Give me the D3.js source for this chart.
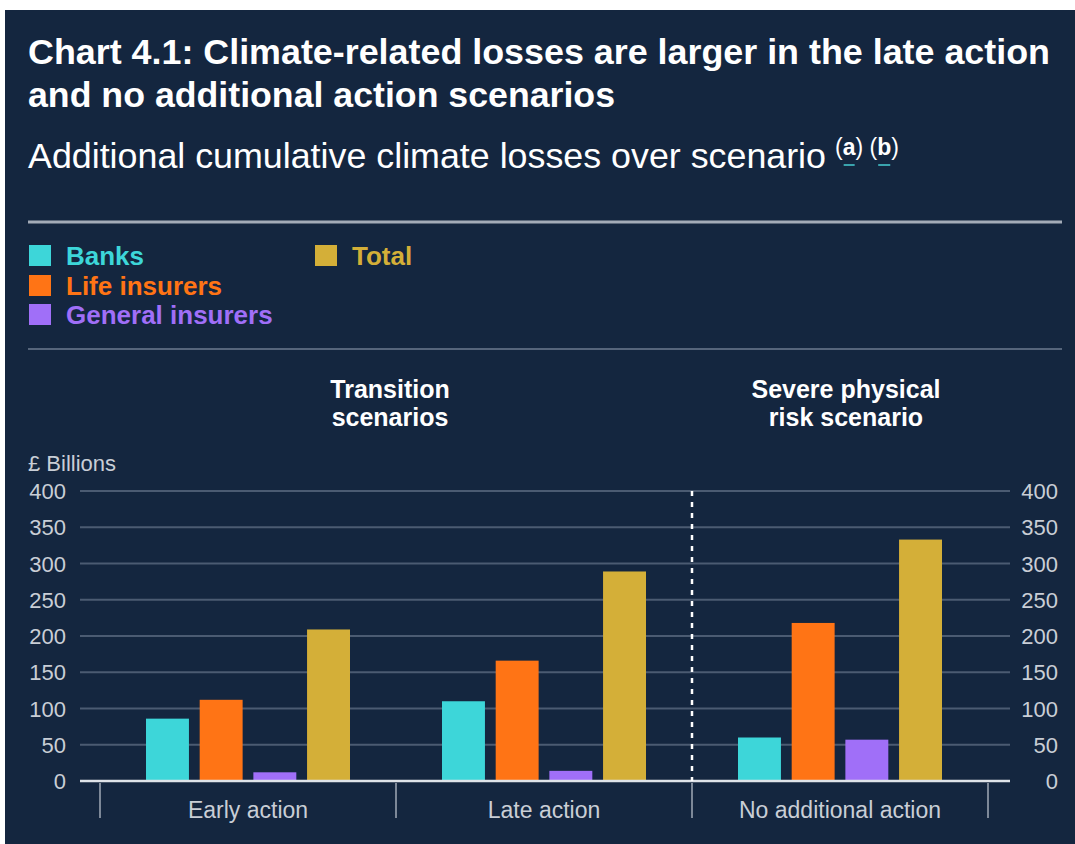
<!DOCTYPE html>
<meta charset="utf-8">
<style>
    body { margin: 0; background: #fff; }
    svg { display: block; font-family: "Liberation Sans", Arial, sans-serif; }
    .grid line { stroke: #4b5b72; stroke-width: 2; }
    .tick-label { fill: #c9ced6; font-size: 22px; }
    .cat-label { fill: #c9ced6; font-size: 23px; }
</style>
<script src="https://d3js.org/d3.v7.min.js"></script>
<svg width="1075" height="844"></svg>
<script>
    // data
    let categories = ["Early action", "Late action", "No additional action"];
    let seriesNames = ["Banks", "Life insurers", "General insurers", "Total"];
    let banks = [86, 110, 60];
    let lifeInsurers = [112, 166, 218];
    let generalInsurers = [12, 14, 57];
    let total = [209, 289, 333];
    let yTicks = [0, 50, 100, 150, 200, 250, 300, 350, 400];
    let colors = ["#3dd6d9", "#ff7415", "#a06ff8", "#d4af38"];

    let seriesValues = [banks, lifeInsurers, generalInsurers, total];

    let svg = d3.select("svg");

    // panel
    svg.append("rect")
        .attr("x", 5).attr("y", 10)
        .attr("width", 1070).attr("height", 834)
        .attr("fill", "#14263f");

    // title
    let title = svg.append("text")
        .attr("fill", "#fff")
        .style("font-weight", "bold")
        .style("font-size", "35px");
    title.append("tspan").attr("x", 28).attr("y", 64)
        .attr("textLength", 1022).attr("lengthAdjust", "spacingAndGlyphs")
        .text("Chart 4.1: Climate-related losses are larger in the late action");
    title.append("tspan").attr("x", 28).attr("y", 107)
        .attr("textLength", 587).attr("lengthAdjust", "spacingAndGlyphs")
        .text("and no additional action scenarios");

    let sub = svg.append("text")
        .attr("x", 28).attr("y", 168)
        .attr("fill", "#fff")
        .style("font-size", "35px");
    sub.append("tspan").attr("textLength", 798).attr("lengthAdjust", "spacingAndGlyphs")
        .text("Additional cumulative climate losses over scenario");
    let sup = svg.append("text")
        .attr("x", 835).attr("y", 155)
        .attr("fill", "#fff")
        .style("font-size", "23px");
    sup.append("tspan").text("(");
    sup.append("tspan").attr("id", "fa").style("font-weight", "bold").text("a");
    sup.append("tspan").text(") (");
    sup.append("tspan").attr("id", "fb").style("font-weight", "bold").text("b");
    sup.append("tspan").text(")");

    // underline the footnote letters
    ["#fa", "#fb"].forEach(function(id) {
        let bb = svg.select(id).node().getBBox();
        svg.append("line")
            .attr("x1", bb.x + 1).attr("x2", bb.x + bb.width - 1)
            .attr("y1", 165).attr("y2", 165)
            .attr("stroke", "#3aa3ad").attr("stroke-width", 2);
    });

    // rules
    svg.append("line")
        .attr("x1", 28).attr("x2", 1062).attr("y1", 222).attr("y2", 222)
        .attr("stroke", "#a3abb7").attr("stroke-width", 3);
    svg.append("line")
        .attr("x1", 28).attr("x2", 1062).attr("y1", 349).attr("y2", 349)
        .attr("stroke", "#56657b").attr("stroke-width", 2);

    // legend
    let legendPos = [[29, 245], [29, 275], [29, 304], [315, 245]];
    let legend = svg.selectAll(".legend")
        .data(seriesNames)
        .enter().append("g")
        .attr("class", "legend")
        .attr("transform", function(d, i) { return "translate(" + legendPos[i][0] + "," + legendPos[i][1] + ")"; });
    legend.append("rect")
        .attr("width", 22).attr("height", 21)
        .attr("fill", function(d, i) { return colors[i]; });
    legend.append("text")
        .attr("x", 37).attr("y", 20)
        .attr("fill", function(d, i) { return colors[i]; })
        .style("font-weight", "bold")
        .style("font-size", "26px")
        .text(function(d) { return d; });

    // group headings
    let headings = [
        { x: 390, lines: ["Transition", "scenarios"] },
        { x: 846, lines: ["Severe physical", "risk scenario"] }
    ];
    headings.forEach(function(h) {
        let t = svg.append("text")
            .attr("text-anchor", "middle")
            .attr("fill", "#fff")
            .style("font-weight", "bold")
            .style("font-size", "25px");
        h.lines.forEach(function(l, i) {
            t.append("tspan").attr("x", h.x).attr("y", 398 + i * 28).text(l);
        });
    });

    svg.append("text")
        .attr("x", 28).attr("y", 471)
        .attr("class", "tick-label")
        .text("£ Billions");

    // scales
    let x = d3.scaleBand().domain(categories).range([100, 988]);
    let xInner = d3.scaleBand().domain(seriesNames).range([46, 250]).paddingInner(0.2);
    let y = d3.scaleLinear().domain([0, 400]).range([781, 491]);

    // grid
    svg.append("g").attr("class", "grid")
        .selectAll("line")
        .data(yTicks.filter(function(d) { return d > 0; }))
        .enter().append("line")
        .attr("x1", 80).attr("x2", 1010)
        .attr("y1", function(d) { return y(d); })
        .attr("y2", function(d) { return y(d); });

    // axis labels
    svg.append("g").selectAll("text")
        .data(yTicks)
        .enter().append("text")
        .attr("class", "tick-label")
        .attr("x", 66).attr("y", function(d) { return y(d) + 8; })
        .attr("text-anchor", "end")
        .text(function(d) { return d; });
    svg.append("g").selectAll("text")
        .data(yTicks)
        .enter().append("text")
        .attr("class", "tick-label")
        .attr("x", 1058).attr("y", function(d) { return y(d) + 8; })
        .attr("text-anchor", "end")
        .text(function(d) { return d; });

    // bars
    let groups = svg.selectAll(".group")
        .data(categories)
        .enter().append("g")
        .attr("class", "group")
        .attr("transform", function(d) { return "translate(" + x(d) + ",0)"; });
    groups.selectAll("rect")
        .data(function(d, ci) {
            return seriesNames.map(function(s, si) { return { s: s, v: seriesValues[si][ci], i: si }; });
        })
        .enter().append("rect")
        .attr("x", function(d) { return xInner(d.s); })
        .attr("width", xInner.bandwidth())
        .attr("y", function(d) { return y(d.v); })
        .attr("height", function(d) { return y(0) - y(d.v); })
        .attr("fill", function(d) { return colors[d.i]; });

    // zero line
    svg.append("line")
        .attr("x1", 80).attr("x2", 1010)
        .attr("y1", y(0)).attr("y2", y(0))
        .attr("stroke", "#dfe3e8").attr("stroke-width", 2.5);

    // scenario divider
    svg.append("line")
        .attr("x1", x(categories[2])).attr("x2", x(categories[2]))
        .attr("y1", y(400)).attr("y2", y(0))
        .attr("stroke", "#fff").attr("stroke-width", 2.5)
        .attr("stroke-dasharray", "5,6");

    // category separators
    let seps = categories.map(function(c) { return x(c); }).concat([x(categories[2]) + x.bandwidth()]);
    svg.append("g").selectAll("line")
        .data(seps)
        .enter().append("line")
        .attr("x1", function(d) { return d; }).attr("x2", function(d) { return d; })
        .attr("y1", y(0) + 2).attr("y2", 818)
        .attr("stroke", "#7d8898").attr("stroke-width", 2);

    svg.append("g").selectAll("text")
        .data(categories)
        .enter().append("text")
        .attr("class", "cat-label")
        .attr("x", function(d) { return x(d) + x.bandwidth() / 2; })
        .attr("y", 818)
        .attr("text-anchor", "middle")
        .text(function(d) { return d; });
</script>
